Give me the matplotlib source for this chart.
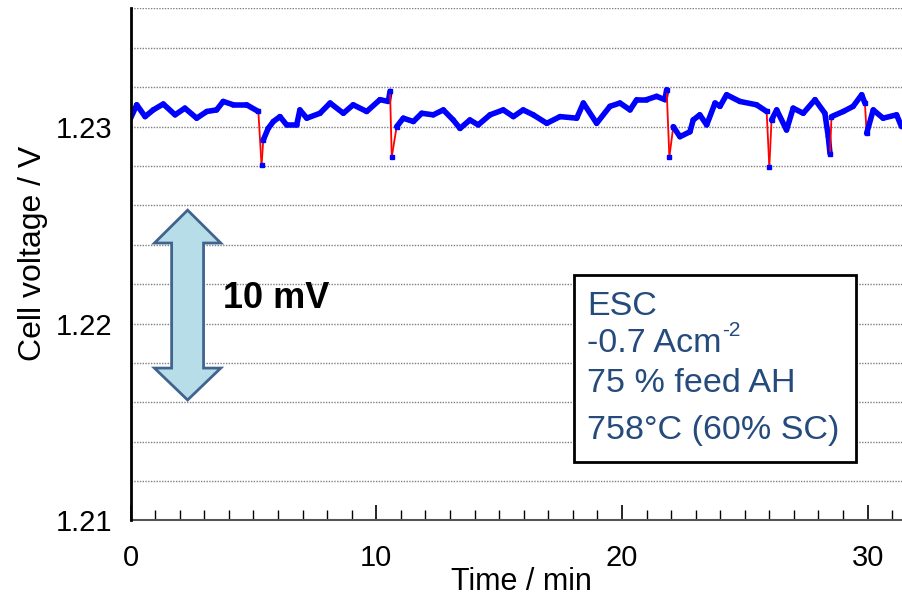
import numpy as np
import matplotlib
matplotlib.use("Agg")
import matplotlib.pyplot as plt
from matplotlib.collections import LineCollection
from matplotlib.patches import Polygon, Rectangle

plt.rcParams['font.family'] = ['Liberation Sans', 'DejaVu Sans']

# tiempo (min) y voltaje de celda (V)
t = [0.0, 0.25, 0.59, 0.92, 1.33, 1.81, 2.21, 2.69, 3.10, 3.50, 3.77, 4.18, 4.72,
     5.20, 5.33, 5.40, 5.60, 5.81, 6.08, 6.35, 6.76, 6.89, 7.17, 7.71, 8.12, 8.66,
     9.06, 9.61, 10.15, 10.49, 10.56, 10.63, 10.83, 11.10, 11.51, 11.85, 12.32,
     12.73, 13.13, 13.41, 13.81, 14.15, 14.63, 15.17, 15.58, 15.98, 16.39, 16.94,
     17.48, 18.16, 18.43, 18.97, 19.51, 19.92, 20.33, 20.60, 21.00, 21.41, 21.75,
     21.82, 21.93, 22.09, 22.36, 22.77, 22.90, 23.17, 23.45, 23.79, 23.99, 24.26,
     24.80, 25.48, 25.89, 26.00, 26.09, 26.30, 26.70, 26.97, 27.38, 27.86, 28.26,
     28.40, 28.47, 28.53, 29.01, 29.41, 29.76, 29.89, 29.96, 30.23, 30.63, 31.18,
     31.38]
v = [1.23043, 1.23111, 1.23051, 1.23085, 1.23115, 1.23060, 1.23094, 1.23043,
     1.23077, 1.23085, 1.23128, 1.23111, 1.23111,
     1.23077, 1.22803, 1.22932, 1.22991, 1.23026, 1.23051, 1.23009, 1.23009,
     1.23085, 1.23043, 1.23068, 1.23120, 1.23068,
     1.23111, 1.23077, 1.23137, 1.23128, 1.23179, 1.22846, 1.23000, 1.23043,
     1.23026, 1.23068, 1.23060,
     1.23085, 1.23034, 1.22991, 1.23034, 1.23009, 1.23060, 1.23085, 1.23051,
     1.23085, 1.23060, 1.23017,
     1.23051, 1.23043, 1.23120, 1.23017, 1.23103, 1.23120, 1.23085, 1.23137,
     1.23137, 1.23154, 1.23137,
     1.23188, 1.22846, 1.23000, 1.22949, 1.22974, 1.23034, 1.23060, 1.23009,
     1.23120, 1.23103, 1.23162,
     1.23128, 1.23111, 1.23077, 1.22795, 1.23034, 1.23085, 1.22983, 1.23094,
     1.23068, 1.23137, 1.23068,
     1.22949, 1.22863, 1.23051, 1.23077, 1.23103, 1.23162, 1.23120, 1.22966,
     1.23085, 1.23043, 1.23060,
     1.23000]

x_major = [0, 10, 20, 30]
y_ticks = [1.21, 1.22, 1.23]
y_grid = np.arange(1.212, 1.2365, 0.002)
info = ['ESC', '-0.7 Acm', '75 % feed AH', '758°C (60% SC)']
info_y = [1.22085, 1.21901, 1.21698, 1.21459]

fig = plt.figure(figsize=(9.02, 5.98), dpi=100)
ax = fig.add_axes([0.1448, 0.1296, 0.8552, 0.8562])
ax.set_xlim(0, 31.4)
ax.set_ylim(1.21, 1.236)

for g in y_grid:
    ax.axhline(g, color='#7f7f7f', lw=1, ls=(0, (1, 1)), zorder=1)

# segmentos: tramo normal en azul grueso, saltos bruscos en rojo fino
pts = np.column_stack([t, v])
segs = np.stack([pts[:-1], pts[1:]], axis=1)
salto = np.abs(np.diff(v)) > 0.0012
cols = ['red' if s else 'blue' for s in salto]
lws = [1.3 if s else 4.0 for s in salto]
lc = LineCollection(segs, colors=cols, linewidths=lws, capstyle='round', zorder=3)
ax.add_collection(lc)
idx = sorted(set(np.where(salto)[0]) | set(np.where(salto)[0] + 1))
ax.plot(np.array(t)[idx], np.array(v)[idx], 's', color='blue', ms=3.5, zorder=4)

# flecha doble de 10 mV
cx, hw, sw = 2.32, 1.35, 0.65
ytop, yh1, yh2, ybot = 1.22576, 1.22409, 1.21774, 1.21612
arrow = Polygon([(cx, ytop), (cx + hw, yh1), (cx + sw, yh1), (cx + sw, yh2),
                 (cx + hw, yh2), (cx, ybot), (cx - hw, yh2), (cx - sw, yh2),
                 (cx - sw, yh1), (cx - hw, yh1)],
                closed=True, facecolor='#b7dde8', edgecolor='#41648f', lw=2, zorder=5)
ax.add_patch(arrow)
ax.text(5.92, 1.22129, '10 mV', fontsize=26, fontweight='bold', ha='center',
        va='center', zorder=6)

# cuadro de condiciones
ax.add_patch(Rectangle((18.05, 1.21297), 11.47, 0.00949, facecolor='white',
                       edgecolor='black', lw=2, zorder=6))
txts = []
for s, yy in zip(info, info_y):
    txts.append(ax.text(18.57, yy, s, fontsize=24.5, color='#254a7c', ha='left',
                        va='center', zorder=7))
fig.canvas.draw()
bb = txts[1].get_window_extent()
fig.text(bb.x1 / fig.dpi / fig.get_figwidth() + 0.001,
         (bb.y1 - 12) / fig.dpi / fig.get_figheight(), '-2', fontsize=15,
         color='#254a7c', ha='left', va='bottom', zorder=7)

for side in ['right', 'top']:
    ax.spines[side].set_visible(False)
ax.spines['left'].set_linewidth(2)
ax.spines['left'].set_zorder(8)
ax.spines['bottom'].set_color('#555555')
ax.spines['bottom'].set_linewidth(1.5)

ax.set_xticks(x_major)
ax.set_xticks(np.arange(0, 32, 1), minor=True)
ax.tick_params(axis='x', which='major', direction='in', length=11, width=1.2,
               labelsize=21, pad=17)
ax.tick_params(axis='x', which='minor', direction='in', length=7, width=1)
ax.set_yticks(y_ticks)
ax.set_yticklabels(['1.21', '1.22', '1.23'])
ax.tick_params(axis='y', length=0, labelsize=21, pad=13)

fig.text(0.578, 0.027, 'Time / min', fontsize=22, ha='center', va='center')
fig.text(0.0366, 0.577, 'Cell voltage / V', fontsize=23, ha='center',
         va='center', rotation=90)

fig.savefig('out.png', dpi=100)
